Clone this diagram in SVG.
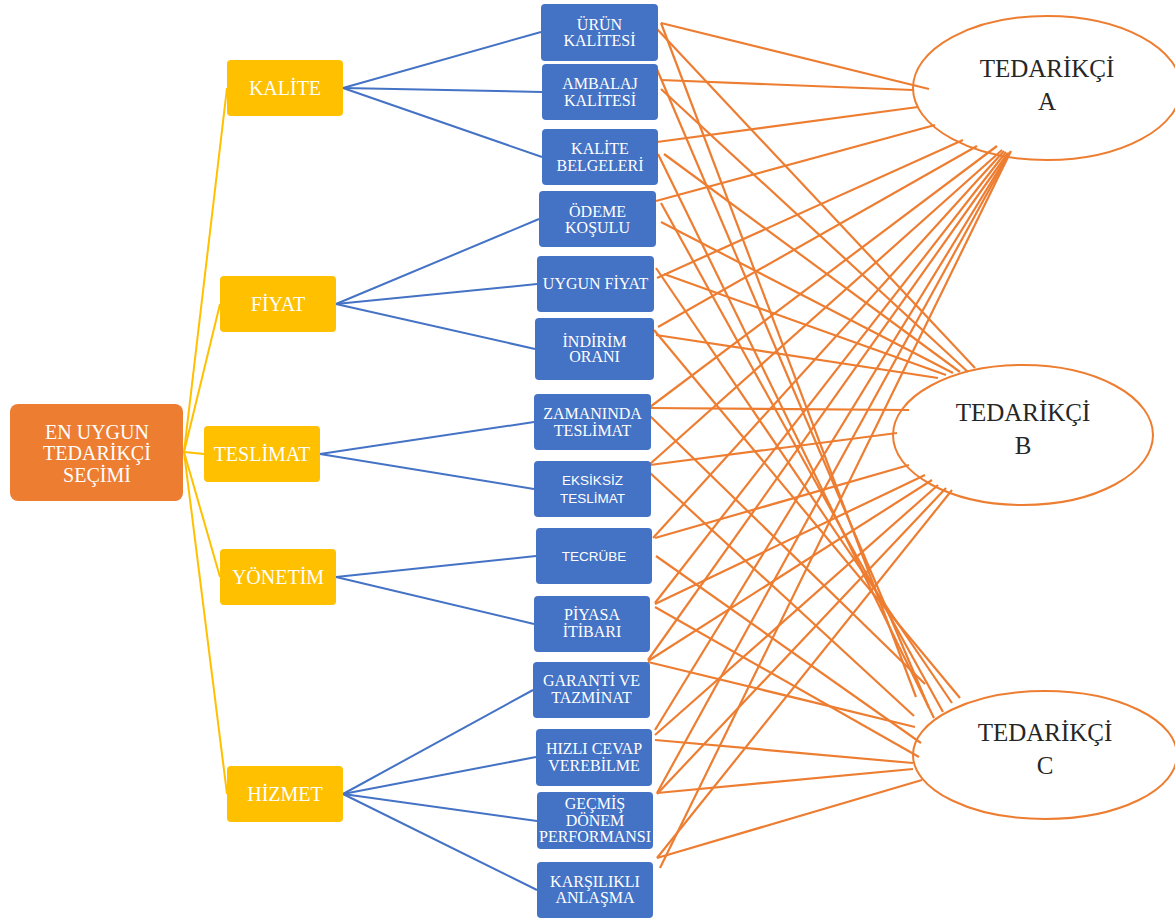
<svg xmlns="http://www.w3.org/2000/svg" width="1175" height="920" viewBox="0 0 1175 920">
<style>
.o{stroke:#ED7D31;stroke-width:2.2;fill:none}
.b{stroke:#4472C4;stroke-width:2;fill:none}
.y{stroke:#FFC000;stroke-width:2;fill:none}
.blue{fill:#4472C4}
.yel{fill:#FFC000}
.t{font-family:"Liberation Serif","Times New Roman",serif;fill:#fff;text-anchor:middle}
.s{font-size:16px}
.ss{font-family:"Liberation Sans",Arial,sans-serif;font-size:13.5px;fill:#fff;text-anchor:middle}
.c{font-size:20px}
.e{font-family:"Liberation Serif","Times New Roman",serif;font-size:25px;fill:#262626;text-anchor:middle}
.ell{fill:none;stroke:#ED7D31;stroke-width:2}
</style>
<rect width="1175" height="920" fill="#fff"/>
<g id="connectors">
<g id="yellow-links">
<line class="y" x1="184" y1="452" x2="227" y2="88"/>
<line class="y" x1="184" y1="452" x2="220" y2="304"/>
<line class="y" x1="184" y1="452" x2="204" y2="454"/>
<line class="y" x1="184" y1="452" x2="220" y2="577"/>
<line class="y" x1="184" y1="452" x2="227" y2="794"/>
</g>
<g id="blue-links">
<line class="b" x1="343" y1="88" x2="541" y2="32"/>
<line class="b" x1="343" y1="88" x2="542" y2="92"/>
<line class="b" x1="343" y1="88" x2="542" y2="157"/>
<line class="b" x1="336" y1="304" x2="539" y2="219"/>
<line class="b" x1="336" y1="304" x2="537" y2="284"/>
<line class="b" x1="336" y1="304" x2="535" y2="349"/>
<line class="b" x1="320" y1="454" x2="534" y2="422"/>
<line class="b" x1="320" y1="454" x2="534" y2="489"/>
<line class="b" x1="336" y1="577" x2="536" y2="556"/>
<line class="b" x1="336" y1="577" x2="534" y2="624"/>
<line class="b" x1="343" y1="794" x2="533" y2="690"/>
<line class="b" x1="343" y1="794" x2="536" y2="757"/>
<line class="b" x1="343" y1="794" x2="537" y2="821"/>
<line class="b" x1="343" y1="794" x2="537" y2="890"/>
</g>
<g id="orange-links">
<line class="o" x1="661" y1="23" x2="929" y2="89"/>
<line class="o" x1="657" y1="29" x2="975" y2="368"/>
<line class="o" x1="661" y1="23" x2="916" y2="697"/>
<line class="o" x1="661" y1="80" x2="913" y2="90"/>
<line class="o" x1="661" y1="89" x2="968" y2="372"/>
<line class="o" x1="656" y1="67" x2="929" y2="708"/>
<line class="o" x1="657" y1="142" x2="918" y2="107"/>
<line class="o" x1="664" y1="154" x2="960" y2="372"/>
<line class="o" x1="658" y1="154" x2="934" y2="718"/>
<line class="o" x1="656" y1="201" x2="935" y2="125"/>
<line class="o" x1="661" y1="222" x2="953" y2="373"/>
<line class="o" x1="661" y1="203" x2="943" y2="712"/>
<line class="o" x1="657" y1="278" x2="963" y2="140"/>
<line class="o" x1="664" y1="274" x2="946" y2="375"/>
<line class="o" x1="656" y1="268" x2="952" y2="703"/>
<line class="o" x1="658" y1="327" x2="977" y2="146"/>
<line class="o" x1="656" y1="335" x2="938" y2="378"/>
<line class="o" x1="654" y1="330" x2="960" y2="698"/>
<line class="o" x1="650" y1="407" x2="997" y2="146"/>
<line class="o" x1="650" y1="408" x2="909" y2="410"/>
<line class="o" x1="649" y1="415" x2="925" y2="684"/>
<line class="o" x1="650" y1="464" x2="1002" y2="150"/>
<line class="o" x1="650" y1="465" x2="897" y2="433"/>
<line class="o" x1="649" y1="472" x2="914" y2="716"/>
<line class="o" x1="653" y1="538" x2="1004" y2="151"/>
<line class="o" x1="655" y1="538" x2="909" y2="465"/>
<line class="o" x1="656" y1="556" x2="921" y2="743"/>
<line class="o" x1="655" y1="603" x2="1006" y2="152"/>
<line class="o" x1="655" y1="604" x2="925" y2="475"/>
<line class="o" x1="655" y1="607" x2="919" y2="757"/>
<line class="o" x1="648" y1="660" x2="1008" y2="153"/>
<line class="o" x1="648" y1="661" x2="932" y2="480"/>
<line class="o" x1="648" y1="662" x2="915" y2="727"/>
<line class="o" x1="655" y1="730" x2="1009" y2="153"/>
<line class="o" x1="655" y1="735" x2="938" y2="485"/>
<line class="o" x1="655" y1="740" x2="913" y2="763"/>
<line class="o" x1="657" y1="793" x2="1010" y2="152"/>
<line class="o" x1="657" y1="794" x2="946" y2="488"/>
<line class="o" x1="657" y1="793" x2="913" y2="769"/>
<line class="o" x1="660" y1="868" x2="1011" y2="151"/>
<line class="o" x1="657" y1="858" x2="952" y2="490"/>
<line class="o" x1="657" y1="858" x2="922" y2="780"/>
</g>
</g>
<g id="root">
<rect x="10" y="404" width="173" height="97" rx="8" fill="#ED7D31"/>
<text class="t c"><tspan x="97" y="439">EN UYGUN</tspan><tspan x="97" y="460">TEDARİKÇİ</tspan><tspan x="97" y="482">SEÇİMİ</tspan></text>
</g>
<g id="cat-kalite"><rect class="yel" x="227" y="60" width="116" height="56" rx="4"/><text class="t c" x="285" y="95">KALİTE</text></g>
<g id="cat-fiyat"><rect class="yel" x="220" y="276" width="116" height="56" rx="4"/><text class="t c" x="278" y="311">FİYAT</text></g>
<g id="cat-teslimat"><rect class="yel" x="204" y="426" width="116" height="56" rx="4"/><text class="t c" x="262" y="461">TESLİMAT</text></g>
<g id="cat-yonetim"><rect class="yel" x="220" y="549" width="116" height="56" rx="4"/><text class="t c" x="278" y="584">YÖNETİM</text></g>
<g id="cat-hizmet"><rect class="yel" x="227" y="766" width="116" height="56" rx="4"/><text class="t c" x="285" y="801">HİZMET</text></g>
<g id="sub-urun-kalitesi"><rect class="blue" x="541" y="4" width="117" height="57" rx="4"/><text class="t s"><tspan x="599.5" y="30">ÜRÜN</tspan><tspan x="599.5" y="46">KALİTESİ</tspan></text></g>
<g id="sub-ambalaj-kalitesi"><rect class="blue" x="542" y="64" width="116" height="56" rx="4"/><text class="t s"><tspan x="600" y="89">AMBALAJ</tspan><tspan x="600" y="106">KALİTESİ</tspan></text></g>
<g id="sub-kalite-belgeleri"><rect class="blue" x="542" y="129" width="116" height="56" rx="4"/><text class="t s"><tspan x="600" y="154">KALİTE</tspan><tspan x="600" y="171">BELGELERİ</tspan></text></g>
<g id="sub-odeme-kosulu"><rect class="blue" x="539" y="191" width="117" height="56" rx="4"/><text class="t s"><tspan x="597.5" y="217">ÖDEME</tspan><tspan x="597.5" y="233">KOŞULU</tspan></text></g>
<g id="sub-uygun-fiyat"><rect class="blue" x="537" y="256" width="117" height="56" rx="4"/><text class="t s" x="595.5" y="289">UYGUN FİYAT</text></g>
<g id="sub-indirim-orani"><rect class="blue" x="535" y="318" width="119" height="62" rx="4"/><text class="t s"><tspan x="594.5" y="347">İNDİRİM</tspan><tspan x="594.5" y="362">ORANI</tspan></text></g>
<g id="sub-zamaninda-teslimat"><rect class="blue" x="534" y="394" width="117" height="56" rx="4"/><text class="t s"><tspan x="592.5" y="419">ZAMANINDA</tspan><tspan x="592.5" y="436">TESLİMAT</tspan></text></g>
<g id="sub-eksiksiz-teslimat"><rect class="blue" x="534" y="461" width="117" height="56" rx="4"/><text class="ss"><tspan x="592.5" y="485">EKSİKSİZ</tspan><tspan x="592.5" y="503">TESLİMAT</tspan></text></g>
<g id="sub-tecrube"><rect class="blue" x="536" y="528" width="116" height="56" rx="4"/><text class="ss" x="594" y="561">TECRÜBE</text></g>
<g id="sub-piyasa-itibari"><rect class="blue" x="534" y="596" width="116" height="56" rx="4"/><text class="t s"><tspan x="592" y="620">PİYASA</tspan><tspan x="592" y="637">İTİBARI</tspan></text></g>
<g id="sub-garanti-tazminat"><rect class="blue" x="533" y="662" width="117" height="56" rx="4"/><text class="t s"><tspan x="591.5" y="686">GARANTİ VE</tspan><tspan x="591.5" y="703">TAZMİNAT</tspan></text></g>
<g id="sub-hizli-cevap"><rect class="blue" x="536" y="729" width="116" height="57" rx="4"/><text class="t s"><tspan x="594" y="754">HIZLI CEVAP</tspan><tspan x="594" y="771">VEREBİLME</tspan></text></g>
<g id="sub-gecmis-donem"><rect class="blue" x="537" y="792" width="116" height="57" rx="4"/><text class="t s"><tspan x="595" y="809">GEÇMİŞ</tspan><tspan x="595" y="826">DÖNEM</tspan><tspan x="595" y="842">PERFORMANSI</tspan></text></g>
<g id="sub-karsilikli-anlasma"><rect class="blue" x="537" y="862" width="116" height="56" rx="4"/><text class="t s"><tspan x="595" y="887">KARŞILIKLI</tspan><tspan x="595" y="903">ANLAŞMA</tspan></text></g>
<g id="supplier-a"><ellipse class="ell" cx="1047" cy="88" rx="134" ry="72"/><text class="e"><tspan x="1047" y="77">TEDARİKÇİ</tspan><tspan x="1047" y="110">A</tspan></text></g>
<g id="supplier-b"><ellipse class="ell" cx="1023" cy="435" rx="130" ry="70"/><text class="e"><tspan x="1023" y="421">TEDARİKÇİ</tspan><tspan x="1023" y="454">B</tspan></text></g>
<g id="supplier-c"><ellipse class="ell" cx="1045" cy="755" rx="132" ry="64"/><text class="e"><tspan x="1045" y="741">TEDARİKÇİ</tspan><tspan x="1045" y="774">C</tspan></text></g>
</svg>
